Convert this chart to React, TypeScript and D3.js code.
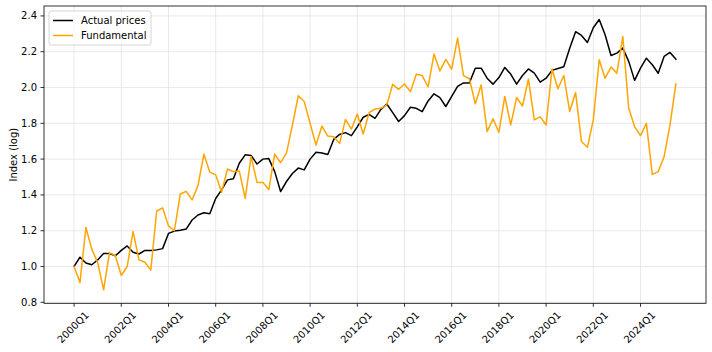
import * as d3 from 'd3';

// quarterly index values, 2000Q1 .. 2025Q3
const actualPrices = [
  1.0, 1.052, 1.02, 1.01, 1.037, 1.073, 1.073, 1.06, 1.09, 1.115,
  1.08, 1.07, 1.09, 1.09, 1.093, 1.1, 1.185, 1.198, 1.203, 1.209,
  1.26, 1.288, 1.3, 1.295, 1.38, 1.428, 1.484, 1.49, 1.577, 1.624,
  1.62, 1.573, 1.6, 1.603, 1.53, 1.419, 1.475, 1.52, 1.55, 1.54,
  1.6, 1.638, 1.634, 1.626, 1.71, 1.738, 1.748, 1.731, 1.78, 1.834,
  1.85, 1.828, 1.878, 1.908, 1.86, 1.81, 1.843, 1.89, 1.884, 1.865,
  1.925, 1.965, 1.944, 1.894, 1.95, 2.007, 2.026, 2.026, 2.108, 2.108,
  2.052, 2.019, 2.056, 2.112, 2.075, 2.019, 2.067, 2.104, 2.08, 2.03,
  2.052, 2.096, 2.106, 2.116, 2.22, 2.312, 2.291, 2.252, 2.334, 2.38,
  2.295, 2.179, 2.192, 2.22, 2.146, 2.04, 2.108, 2.164, 2.127, 2.08,
  2.174, 2.196, 2.159,
];

const fundamental = [
  1.0, 0.91, 1.218, 1.097, 1.022, 0.87, 1.078, 1.06, 0.95, 1.0,
  1.196, 1.037, 1.024, 0.98, 1.31, 1.328, 1.227, 1.2, 1.405, 1.42,
  1.372, 1.452, 1.628, 1.527, 1.512, 1.415, 1.545, 1.53, 1.534, 1.38,
  1.615, 1.47, 1.47, 1.43, 1.628, 1.58, 1.633, 1.79, 1.954, 1.922,
  1.8, 1.679, 1.785, 1.729, 1.725, 1.688, 1.822, 1.768, 1.852, 1.74,
  1.86, 1.88, 1.884, 1.903, 2.018, 1.99, 2.02, 1.977, 2.074, 2.067,
  2.003, 2.187, 2.093, 2.157, 2.103, 2.276, 2.067, 2.049, 1.909, 2.015,
  1.754, 1.825, 1.75, 1.95, 1.791, 1.944, 1.897, 2.047, 1.819, 1.836,
  1.791, 2.104, 1.993, 2.067, 1.866, 1.972, 1.698, 1.666, 1.819, 2.155,
  2.052, 2.114, 2.08, 2.285, 1.884, 1.782, 1.731, 1.8, 1.515, 1.53,
  1.614, 1.791, 2.02,
];

const xTickLabels = [
  '2000Q1', '2002Q1', '2004Q1', '2006Q1', '2008Q1', '2010Q1', '2012Q1',
  '2014Q1', '2016Q1', '2018Q1', '2020Q1', '2022Q1', '2024Q1',
];
const yTicks = [0.8, 1.0, 1.2, 1.4, 1.6, 1.8, 2.0, 2.2, 2.4];

const seriesNames = ['Actual prices', 'Fundamental'];
const seriesColors = ['#000000', '#ffa500'];

const W = 712;
const H = 352;
const margin = { top: 6, right: 6, bottom: 48.7, left: 44 };
const font = 'DejaVu Sans, sans-serif';

export default function App() {
  const n = actualPrices.length;
  const innerL = margin.left;
  const innerR = W - margin.right;
  const innerT = margin.top;
  const innerB = H - margin.bottom;

  // matplotlib-like 5% padding
  const x = d3.scaleLinear()
    .domain([-0.05 * (n - 1), (n - 1) * 1.05])
    .range([innerL, innerR]);

  const all = actualPrices.concat(fundamental);
  const lo = d3.min(all)!;
  const hi = d3.max(all)!;
  const pad = (hi - lo) * 0.05;
  const y = d3.scaleLinear().domain([lo - pad, hi + pad]).range([innerB, innerT]);

  const line = d3.line<number>().x((_, i) => x(i)).y(d => y(d));
  const series = [actualPrices, fundamental];

  const tickIdx = xTickLabels.map((_, i) => i * 8);

  return (
    <svg width={W} height={H} style={{ position: 'absolute', left: 0, top: 0, background: '#fff' }}
      fontFamily={font}>
      <rect x={0} y={0} width={W} height={H} fill="#fff" />
      {/* grid */}
      <g stroke="#e3e3e3" strokeWidth={0.8}>
        {tickIdx.map(t => (
          <line key={'gx' + t} x1={x(t)} x2={x(t)} y1={innerT} y2={innerB} />
        ))}
        {yTicks.map(t => (
          <line key={'gy' + t} x1={innerL} x2={innerR} y1={y(t)} y2={y(t)} />
        ))}
      </g>

      {/* lines */}
      {series.map((s, k) => (
        <path key={k} d={line(s) || ''} fill="none" stroke={seriesColors[k]}
          strokeWidth={1.5} strokeLinejoin="round" strokeLinecap="square" />
      ))}

      {/* frame */}
      <rect x={innerL} y={innerT} width={innerR - innerL} height={innerB - innerT}
        fill="none" stroke="#000" strokeWidth={0.8} />

      {/* y axis */}
      {yTicks.map(t => (
        <g key={'yt' + t}>
          <line x1={innerL - 3.5} x2={innerL} y1={y(t)} y2={y(t)} stroke="#000" strokeWidth={0.8} />
          <text x={innerL - 7} y={y(t)} textAnchor="end" dominantBaseline="central"
            fontSize={10} fill="#000">{t.toFixed(1)}</text>
        </g>
      ))}
      <text transform={`translate(13,${(innerT + innerB) / 2}) rotate(-90)`} textAnchor="middle"
        dominantBaseline="central" fontSize={10} fill="#000">Index (log)</text>

      {/* x axis */}
      {tickIdx.map((t, i) => (
        <g key={'xt' + t}>
          <line x1={x(t)} x2={x(t)} y1={innerB} y2={innerB + 3.5} stroke="#000" strokeWidth={0.8} />
          <text transform={`translate(${x(t) - 1},${innerB + 24}) rotate(-45)`} textAnchor="middle"
            dominantBaseline="central" fontSize={10} fill="#000">{xTickLabels[i]}</text>
        </g>
      ))}

      {/* legend */}
      <g transform={`translate(${innerL + 5},${innerT + 5})`}>
        <rect x={0} y={0} width={102} height={34} rx={2} fill="#fff" fillOpacity={0.8}
          stroke="#cccccc" strokeWidth={0.8} />
        {seriesNames.map((name, k) => (
          <g key={name} transform={`translate(0,${9.5 + k * 15})`}>
            <line x1={4} x2={24} y1={0} y2={0} stroke={seriesColors[k]} strokeWidth={1.5} />
            <text x={32} y={0} dominantBaseline="central" fontSize={10} fill="#000">{name}</text>
          </g>
        ))}
      </g>
    </svg>
  );
}
